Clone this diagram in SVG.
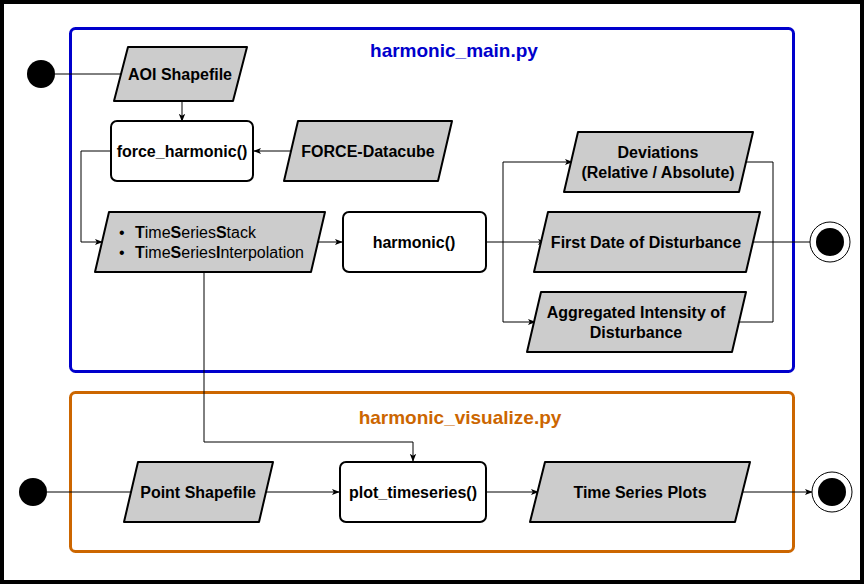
<svg xmlns="http://www.w3.org/2000/svg" width="864" height="584" viewBox="0 0 864 584">
<style>
.t{font-family:"Liberation Sans",Arial,sans-serif;font-size:16px;font-weight:bold;fill:#000;text-anchor:middle;dominant-baseline:central}
.r{font-family:"Liberation Sans",Arial,sans-serif;font-size:16px;fill:#000}
.para{fill:#CCCCCC;stroke:#000;stroke-width:2;stroke-linejoin:round}
.box{fill:#fff;stroke:#000;stroke-width:2}
.c{fill:none;stroke:#000;stroke-width:1}
.ca{fill:none;stroke:#000;stroke-width:1;marker-end:url(#arr)}
</style>
<defs>
<marker id="arr" viewBox="0 0 10 10" refX="9" refY="5" markerWidth="8" markerHeight="8" markerUnits="userSpaceOnUse" orient="auto">
<path d="M0,1 L10,5 L0,9 L2.5,5 z" fill="#000"/>
</marker>
</defs>
<rect x="0" y="0" width="864" height="584" fill="#fff"/>
<rect x="2" y="2" width="860" height="580" fill="none" stroke="#000" stroke-width="4"/>

<g id="container-main">
<rect x="70.5" y="28.5" width="723" height="343" rx="5" fill="none" stroke="#0000CC" stroke-width="3"/>
<text x="454" y="50" class="t" style="fill:#0000CC;font-size:19px">harmonic_main.py</text>
</g>
<g id="container-visualize">
<rect x="70.5" y="392.5" width="723" height="159" rx="5" fill="none" stroke="#CC6600" stroke-width="3"/>
<text x="460" y="417" class="t" style="fill:#CC6600;font-size:19px">harmonic_visualize.py</text>
</g>

<g id="connectors">
<path class="c" d="M55,74 H121"/>
<path class="ca" d="M182,101 V121"/>
<path class="ca" d="M291,151 H254"/>
<path class="ca" d="M111,151 H81 V242 H102"/>
<path class="ca" d="M318,242 H342"/>
<path class="ca" d="M486,242 H545"/>
<path class="ca" d="M503,242 V162 H572"/>
<path class="ca" d="M503,242 V322 H535"/>
<path class="c" d="M746,162 H773 V322 H739"/>
<path class="c" d="M753,242 H810"/>
<path class="ca" d="M204,272 V442 H413 V461"/>
<path class="c" d="M47,492 H131"/>
<path class="ca" d="M266,492 H339"/>
<path class="ca" d="M486,492 H538"/>
<path class="ca" d="M742,492 H812"/>
</g>

<g id="start-main"><circle cx="41" cy="74" r="14" fill="#000"/></g>
<g id="aoi-shapefile">
<polygon class="para" points="128,47 247,47 233,101 114,101"/>
<text x="180" y="74" class="t">AOI Shapefile</text>
</g>
<g id="force-harmonic">
<rect class="box" x="111" y="121" width="142" height="60" rx="6"/>
<text x="182" y="151" class="t">force_harmonic()</text>
</g>
<g id="force-datacube">
<polygon class="para" points="298,121 452,121 438,181 284,181"/>
<text x="368" y="151" class="t">FORCE-Datacube</text>
</g>
<g id="timeseries">
<polygon class="para" points="109,212 325,212 311,272 95,272"/>
<text x="119" y="232" class="r" dominant-baseline="central">•</text>
<text x="135" y="232" class="r" dominant-baseline="central"><tspan font-weight="bold">T</tspan>ime<tspan font-weight="bold">S</tspan>eries<tspan font-weight="bold">S</tspan>tack</text>
<text x="119" y="252" class="r" dominant-baseline="central">•</text>
<text x="135" y="252" class="r" dominant-baseline="central"><tspan font-weight="bold">T</tspan>ime<tspan font-weight="bold">S</tspan>eries<tspan font-weight="bold">I</tspan>nterpolation</text>
</g>
<g id="harmonic">
<rect class="box" x="343" y="212" width="143" height="60" rx="6"/>
<text x="414" y="242" class="t">harmonic()</text>
</g>
<g id="deviations">
<polygon class="para" points="578,132 753,132 739,192 564,192"/>
<text x="658" y="152" class="t">Deviations</text>
<text x="658" y="172" class="t">(Relative / Absolute)</text>
</g>
<g id="first-date">
<polygon class="para" points="548,212 760,212 746,272 534,272"/>
<text x="646" y="242" class="t">First Date of Disturbance</text>
</g>
<g id="aggregated">
<polygon class="para" points="541,292 746,292 732,352 527,352"/>
<text x="636" y="312" class="t">Aggregated Intensity of</text>
<text x="636" y="332" class="t">Disturbance</text>
</g>
<g id="end-main">
<circle cx="830" cy="242" r="20" fill="#fff" stroke="#000" stroke-width="1"/>
<circle cx="830" cy="242" r="14" fill="#000"/>
</g>

<g id="start-visualize"><circle cx="33" cy="492" r="14" fill="#000"/></g>
<g id="point-shapefile">
<polygon class="para" points="138,462 273,462 259,522 124,522"/>
<text x="198" y="492" class="t">Point Shapefile</text>
</g>
<g id="plot-timeseries">
<rect class="box" x="340" y="462" width="146" height="60" rx="6"/>
<text x="413" y="492" class="t">plot_timeseries()</text>
</g>
<g id="time-series-plots">
<polygon class="para" points="545,462 750,462 735,522 530,522"/>
<text x="640" y="492" class="t">Time Series Plots</text>
</g>
<g id="end-visualize">
<circle cx="832" cy="492" r="20" fill="#fff" stroke="#000" stroke-width="1"/>
<circle cx="832" cy="492" r="14" fill="#000"/>
</g>
</svg>
